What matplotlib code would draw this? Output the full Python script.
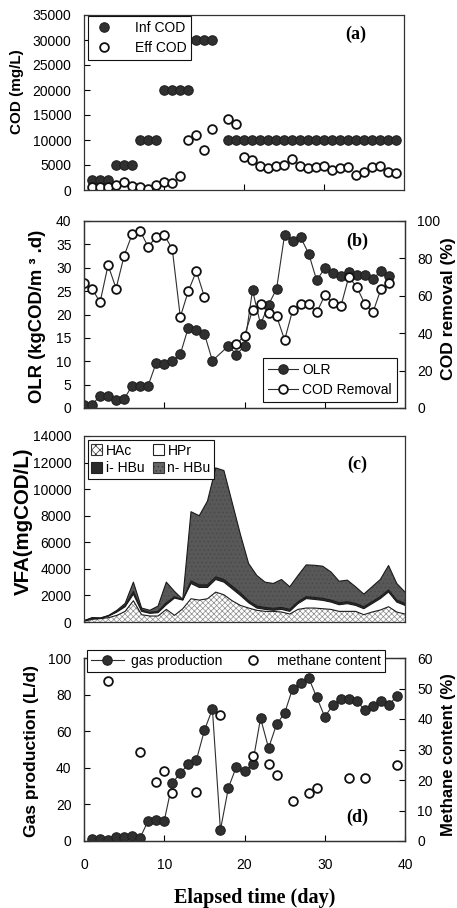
import matplotlib
matplotlib.use('Agg')
import matplotlib.pyplot as plt
from matplotlib.patches import Patch
import numpy as np

plt.rcParams['font.family'] = 'Liberation Sans'
plt.rcParams['font.size'] = 10
plt.rcParams['hatch.linewidth'] = 0.5

#---------------------------------------------------------------------------
#                               DATA
#---------------------------------------------------------------------------

# (a) influent / effluent COD (mg/L)
cod_days = [1, 2, 3, 4, 5, 6, 7, 8, 9, 10, 11, 12, 13, 14, 15, 16,
            18, 19, 20, 21, 22, 23, 24, 25, 26, 27, 28, 29, 30, 31, 32, 33, 34, 35, 36, 37, 38, 39]
inf_cod = [2000, 2000, 2000, 5000, 5000, 5000, 10000, 10000, 10000, 20000, 20000, 20000, 20000,
           30000, 30000, 30000,
           10000, 10000, 10000, 10000, 10000, 10000, 10000, 10000, 10000, 10000, 10000,
           10000, 10000, 10000, 10000, 10000, 10000, 10000, 10000, 10000, 10000, 10000]
eff_cod = [550, 550, 550, 1100, 1650, 850, 550, 250, 1100, 1650, 1350, 2850, 10100, 11100, 8000, 12200,
           14250, 13250, 6650, 6100, 4800, 4450, 4850, 5100, 6300, 4800, 4450, 4550, 4850, 4000,
           4350, 4550, 3000, 3550, 4550, 4850, 3650, 3350]

# (b) OLR and COD removal
olr_days = [0, 1, 2, 3, 4, 5, 6, 7, 8, 9, 10, 11, 12, 13, 14, 15, 16,
            18, 19, 20, 21, 22, 23, 24, 25, 26, 27, 28, 29, 30, 31, 32, 33, 34, 35, 36, 37, 38]
olr = [0.7, 0.7, 2.6, 2.6, 1.7, 1.9, 4.8, 4.8, 4.8, 9.7, 9.5, 10.0, 11.5, 17.2, 16.7, 15.9, 10.1,
       13.3, 11.4, 13.3, 25.2, 17.9, 22.1, 25.5, 37.1, 35.7, 36.5, 33.0, 27.3, 29.9, 28.8, 28.2,
       29.0, 28.4, 28.4, 27.7, 29.2, 28.3]
rem_days = [0, 1, 2, 3, 4, 5, 6, 7, 8, 9, 10, 11, 12, 13, 14, 15,
            19, 20, 21, 22, 23, 24, 25, 26, 27, 28, 29, 30, 31, 32, 33, 34, 35, 36, 37, 38]
cod_removal = [66.6, 63.9, 56.5, 76.4, 63.9, 81.4, 92.9, 94.6, 86.2, 91.6, 92.5, 85.0, 48.7, 62.5, 73.2, 59.5,
               34.3, 38.6, 52.3, 55.4, 50.9, 49.1, 36.4, 52.3, 55.4, 55.4, 51.1, 60.2, 56.2, 54.3,
               70.2, 64.5, 55.7, 51.1, 63.6, 66.6]

# (c) VFA composition (mgCOD/L)
vfa_days = [0, 1, 2, 3, 4, 5, 6, 7, 8, 9, 10, 11, 12, 13, 14, 15, 16, 17, 18, 19,
            20, 21, 22, 23, 24, 25, 26, 27, 28, 29, 30, 31, 32, 33, 34, 35, 36, 37, 38, 39]
hac = [50, 200, 250, 330, 500, 800, 1600, 550, 450, 450, 950, 500, 1000, 1750, 1650, 1750, 2250, 2050, 1600, 1250,
       1050, 880, 800, 800, 750, 600, 950, 1050, 1050, 1000, 950, 800, 800, 800, 550, 750, 900, 1150, 750, 600]
hpr = [30, 80, 30, 120, 250, 350, 500, 250, 200, 250, 350, 1300, 650, 1150, 950, 850, 950, 950, 900, 750,
       400, 170, 150, 80, 200, 200, 430, 710, 650, 630, 550, 500, 580, 450, 450, 630, 860, 1110, 750, 650]
ihbu = [10, 20, 10, 20, 50, 100, 200, 100, 80, 100, 150, 100, 20, 200, 200, 200, 200, 200, 200, 200,
        150, 150, 150, 150, 150, 150, 150, 150, 150, 150, 150, 150, 150, 150, 150, 150, 150, 150, 150, 150]
nhbu = [10, 30, 10, 30, 80, 150, 700, 150, 150, 400, 1550, 400, 30, 5200, 5200, 6300, 8200, 8200, 6300, 4400,
        2800, 2300, 1900, 1870, 2100, 1700, 1970, 2390, 2420, 2420, 2120, 1620, 1620, 1250, 950, 1120,
        1290, 1840, 1250, 850]
vfa_names = ['HAc', 'HPr', 'i- HBu', 'n- HBu']

# (d) gas production and methane content
gas_days = [1, 2, 3, 4, 5, 6, 7, 8, 9, 10, 11, 12, 13, 14, 15, 16, 17, 18, 19, 20,
            21, 22, 23, 24, 25, 26, 27, 28, 29, 30, 31, 32, 33, 34, 35, 36, 37, 38, 39]
gas = [1.1, 1.1, 0.5, 2.4, 2.4, 2.9, 1.8, 11.1, 11.7, 11.1, 31.6, 37.1, 42.0, 44.2, 60.4, 72.1, 6.0, 29.2, 40.7, 38.2,
       42.0, 67.1, 50.8, 63.8, 69.9, 83.3, 86.2, 89.1, 78.5, 67.9, 74.1, 77.8, 77.8, 76.3, 71.6, 73.6, 76.3, 74.5, 79.2]
ch4_days = [3, 7, 9, 10, 11, 14, 17, 21, 23, 24, 26, 28, 29, 33, 35, 39]
ch4 = [52.4, 29.2, 19.3, 22.8, 15.6, 16.2, 41.2, 28.0, 25.2, 21.7, 13.1, 15.7, 17.3, 20.8, 20.8, 24.8]

#---------------------------------------------------------------------------
#                               FIGURE
#---------------------------------------------------------------------------

W, H = 457, 908
fig = plt.figure(figsize=(W / 100, H / 100), dpi=100)

def box(l, t, r, b):
    return [l / W, 1 - b / H, (r - l) / W, (b - t) / H]

def ylab(x, y, s, size):
    # y-axis titles placed by their centre in pixels
    fig.text(x / W, 1 - y / H, s, rotation=90, ha='center', va='center',
             fontsize=size, family='Liberation Sans', weight='bold')

DARK = '#2e2e2e'
FILLED = dict(marker='o', ms=6.8, mfc='#303030', mec='#202020', mew=0.8)
OPEN = dict(marker='o', ms=6.3, mfc='white', mec='#111111', mew=1.3)
SERIF_B = dict(family='Liberation Serif', weight='bold')

def style(ax):
    for s in ax.spines.values():
        s.set_linewidth(0.9)
        s.set_color('#333333')
    ax.tick_params(direction='in', length=4, width=0.8, labelsize=10, pad=9)
    ax.tick_params(axis='x', pad=12)

def legend(ax, handles, labels, **kw):
    lg = ax.legend(handles, labels, frameon=True, fancybox=False, framealpha=1,
                   edgecolor='#111111', fontsize=10, borderaxespad=0, **kw)
    lg.get_frame().set_linewidth(0.8)
    lg.set_zorder(20)
    return lg

# ---------------- (a)
ax_a = fig.add_axes(box(84, 15, 404, 190))
ha, = ax_a.plot(cod_days, inf_cod, ls='none', **FILLED)
he, = ax_a.plot(cod_days, eff_cod, ls='none', **OPEN)
ax_a.set_xlim(0, 40)
ax_a.set_ylim(0, 35000)
ax_a.set_yticks(np.arange(0, 35001, 5000))
ax_a.set_xticks([10, 20, 30])
ax_a.set_xticklabels([])
style(ax_a)
legend(ax_a, [ha, he], ['Inf COD', 'Eff COD'], loc='upper left',
       bbox_to_anchor=(0.0125, 0.994), handlelength=1.6, handletextpad=1.4,
       borderpad=0.35, labelspacing=0.45)
ax_a.text(0.85, 0.89, '(a)', transform=ax_a.transAxes, fontsize=13, ha='center', va='center', **SERIF_B)
ylab(17.5, 91.5, 'COD (mg/L)', 11)

# ---------------- (b)
ax_b = fig.add_axes(box(84, 221, 405, 408))
ax_b2 = ax_b.twinx()
hb1, = ax_b.plot(olr_days, olr, '-', color=DARK, lw=0.8, **FILLED)
rd = np.array(rem_days)
rv = np.array(cod_removal)
hb2 = None
for part in (rd <= 15, rd >= 19):
    h, = ax_b2.plot(rd[part], rv[part], '-', color=DARK, lw=0.8, **OPEN)
    hb2 = hb2 or h
ax_b.set_xlim(0, 40)
ax_b.set_ylim(0, 40)
ax_b.set_yticks(np.arange(0, 41, 5))
ax_b2.set_ylim(0, 100)
ax_b2.set_yticks(np.arange(0, 101, 20))
ax_b.set_xticks([10, 20, 30])
ax_b.set_xticklabels([])
style(ax_b)
style(ax_b2)
legend(ax_b2, [hb1, hb2], ['OLR', 'COD Removal'], loc='lower right',
       bbox_to_anchor=(0.975, 0.032), handlelength=2.2, handletextpad=0.3,
       borderpad=0.35, labelspacing=0.45)
ax_b.text(0.85, 0.89, '(b)', transform=ax_b.transAxes, fontsize=13, ha='center', va='center', **SERIF_B)
ylab(37.5, 316, 'OLR (kgCOD/m \u00b3 .d)', 13.3)
ylab(448, 309, 'COD removal (%)', 12.6)

# ---------------- (c)
ax_c = fig.add_axes(box(84, 436, 405, 622))
layers = ax_c.stackplot(vfa_days, hac, hpr, ihbu, nhbu,
                        colors=['white', 'white', '#2a2a2a', '#585858'], lw=0)
layers[0].set_hatch('xxxxxx')
layers[0].set_edgecolor('#8a8a8a')
layers[3].set_hatch('....')
layers[3].set_edgecolor('#484848')
tops = np.cumsum(np.array([hac, hpr, ihbu, nhbu]), axis=0)
for row in tops:
    ax_c.plot(vfa_days, row, color='#1a1a1a', lw=0.8)
ax_c.set_xlim(0, 39)
ax_c.set_ylim(0, 14000)
ax_c.set_yticks(np.arange(0, 14001, 2000))
ax_c.set_xticks([])
style(ax_c)
vfa_handles = [Patch(fc='white', ec='#333333', hatch='xxxx', lw=0.8),
               Patch(fc='#2a2a2a', ec='#222222', lw=0.8),
               Patch(fc='white', ec='#222222', lw=0.8),
               Patch(fc='#666666', ec='#333333', hatch='....', lw=0.8)]
legend(ax_c, vfa_handles, [vfa_names[0], vfa_names[2], vfa_names[1], vfa_names[3]],
       ncol=2, loc='upper left', bbox_to_anchor=(0.012, 0.978), handlelength=0.8,
       handleheight=0.8, handletextpad=0.25, columnspacing=0.6, borderpad=0.25, labelspacing=0.25)
ax_c.text(0.85, 0.845, '(c)', transform=ax_c.transAxes, fontsize=13, ha='center', va='center', **SERIF_B)
ylab(23, 521, 'VFA(mgCOD/L)', 14.8)

# ---------------- (d)
ax_d = fig.add_axes(box(84, 658, 405, 841))
ax_d2 = ax_d.twinx()
hd1, = ax_d.plot(gas_days, gas, '-', color=DARK, lw=0.8, **FILLED)
hd2, = ax_d2.plot(ch4_days, ch4, ls='none', **OPEN)
ax_d.set_xlim(0, 40)
ax_d.set_ylim(0, 100)
ax_d.set_yticks(np.arange(0, 101, 20))
ax_d2.set_ylim(0, 60)
ax_d2.set_yticks(np.arange(0, 61, 10))
ax_d.set_xticks(np.arange(0, 41, 10))
style(ax_d)
style(ax_d2)
legend(ax_d2, [hd1, hd2], ['gas production', 'methane content'], ncol=2,
       loc='upper left', bbox_to_anchor=(0.008, 1.044), handlelength=2.4,
       handletextpad=0.5, columnspacing=1.0, borderpad=0.3)
ax_d.text(0.85, 0.13, '(d)', transform=ax_d.transAxes, fontsize=13, ha='center', va='center', **SERIF_B)
ylab(31.5, 751, 'Gas production (L/d)', 12.6)
ylab(448, 755, 'Methane content (%)', 12)

fig.text(255 / W, 1 - 898 / H, 'Elapsed time (day)', fontsize=14.5, ha='center', va='center', **SERIF_B)

fig.savefig('out.png', dpi=100)
